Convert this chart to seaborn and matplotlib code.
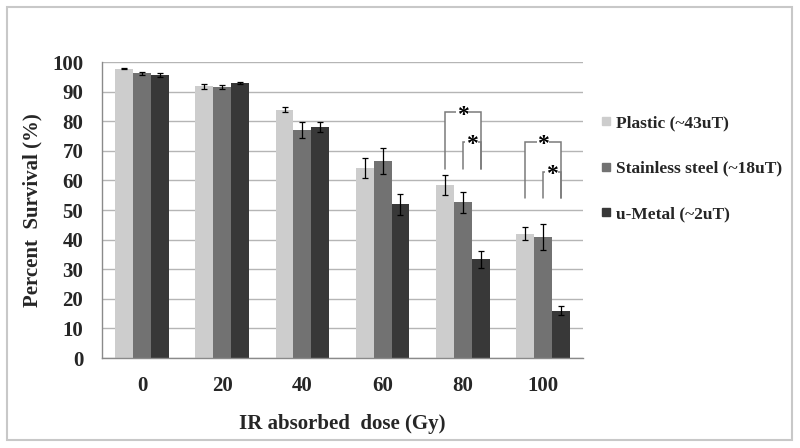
import matplotlib
matplotlib.use("Agg")
import matplotlib.pyplot as plt
from matplotlib.lines import Line2D
from matplotlib.patches import Rectangle
import seaborn as sns
import pandas as pd
import numpy as np

# ---- data ----
doses = ["0", "20", "40", "60", "80", "100"]
groups = ["Plastic (~43uT)", "Stainless steel (~18uT)", "u-Metal (~2uT)"]
plastic = [97.8, 91.8, 83.9, 64.2, 58.4, 42.0]
steel = [96.2, 91.5, 77.0, 66.6, 52.6, 40.9]
umetal = [95.6, 92.8, 78.0, 51.9, 33.3, 16.0]
plastic_err = [0.3, 0.8, 0.9, 3.3, 3.4, 2.1]
steel_err = [0.45, 0.7, 2.6, 4.3, 3.6, 4.5]
umetal_err = [0.65, 0.4, 1.8, 3.5, 3.0, 1.4]
colors = ["#CDCDCD", "#727272", "#383838"]
# significance brackets: (dose index, group a, group b, top, leg bottom)
sig_dose = [4, 4, 5, 5]
sig_a = [0, 1, 0, 1]
sig_b = [2, 2, 2, 2]
sig_top = [83, 73, 73, 63]
sig_bottom = [64, 64, 54, 54]

df = pd.DataFrame({
    "dose": doses * 3,
    "group": [groups[0]] * 6 + [groups[1]] * 6 + [groups[2]] * 6,
    "value": plastic + steel + umetal,
    "err": plastic_err + steel_err + umetal_err,
})

sns.set_style("white")
serif = "Liberation Serif"
plt.rcParams["font.family"] = [serif, "DejaVu Serif"]

fig = plt.figure(figsize=(8, 4.48), dpi=100)
ax = fig.add_axes([102 / 800, (448 - 358) / 448, 481 / 800, 296 / 448])

sns.barplot(data=df, x="dose", y="value", hue="group", order=doses,
            hue_order=groups, palette=colors, saturation=1, width=0.67,
            errorbar=None, linewidth=0, legend=False, ax=ax, zorder=2)

# error bars from bar positions
errs = [plastic_err, steel_err, umetal_err]
bar_conts = list(ax.containers)
centers = []
for ci, cont in enumerate(bar_conts):
    xs = [p.get_x() + p.get_width() / 2 for p in cont]
    ys = [p.get_height() for p in cont]
    centers.append(xs)
    ax.errorbar(xs, ys, yerr=errs[ci], fmt="none", ecolor="black",
                elinewidth=0.9, capsize=2.4, capthick=0.9, zorder=4)

ax.set_ylim(0, 100)
ax.set_xlim(-0.5, 5.5)
ax.set_yticks(np.arange(0, 101, 10))
ax.yaxis.grid(True, color="#B5B5B5", linewidth=1.0, zorder=0)
ax.set_axisbelow(True)
for s in ["top", "right"]:
    ax.spines[s].set_visible(False)
ax.spines["left"].set_color("#8A8A8A")
ax.spines["bottom"].set_color("#8A8A8A")
ax.spines["left"].set_linewidth(1.0)
ax.spines["bottom"].set_linewidth(1.0)
ax.tick_params(axis="y", length=4.5, width=1.0, color="#8A8A8A", pad=9,
               labelsize=15)
ax.tick_params(axis="x", length=0, pad=13, labelsize=15)
for lab in ax.get_xticklabels() + ax.get_yticklabels():
    lab.set_fontweight("bold")
ax.set_xlabel("IR absorbed  dose (Gy)", fontsize=15, fontweight="bold",
              labelpad=13)
ax.set_ylabel("Percent  Survival (%)", fontsize=15, fontweight="bold",
              labelpad=7)

# significance brackets
for d, a, b, top, bot in zip(sig_dose, sig_a, sig_b, sig_top, sig_bottom):
    xa = centers[a][d]
    xb = centers[b][d]
    ax.add_patch(Rectangle((xa, top - 8), xb - xa, 8, facecolor="white",
                           edgecolor="none", zorder=2.5))
    ax.plot([xa, xa, xb, xb], [bot, top, top, bot], color="#7A7A7A",
            linewidth=1.1, zorder=3, solid_joinstyle="miter")
    ax.annotate("*", xy=((xa + xb) / 2, top), xytext=(0, -2.0),
                textcoords="offset points", ha="center", va="center",
                fontsize=17, fontweight="bold", color="black", zorder=5,
                bbox=dict(facecolor="white", edgecolor="none", pad=0.3))

# legend
handles = [Line2D([0], [0], marker="s", linestyle="none", markersize=5.8,
                  markerfacecolor=c, markeredgecolor=c) for c in colors]
leg = fig.legend(handles, groups, loc="upper left",
                 bbox_to_anchor=(600 / 800, (448 - 115) / 448),
                 frameon=False, fontsize=12.5, handlelength=0.7,
                 handletextpad=0.22, labelspacing=1.7, borderpad=0,
                 borderaxespad=0)
for t in leg.get_texts():
    t.set_fontweight("bold")

# figure border
fig.patches.append(Rectangle((7 / 800, 8 / 448), 785 / 800, 433 / 448,
                             transform=fig.transFigure, fill=False,
                             edgecolor="#C8C8C8", linewidth=1.5))

fig.savefig("out.png", dpi=100)
